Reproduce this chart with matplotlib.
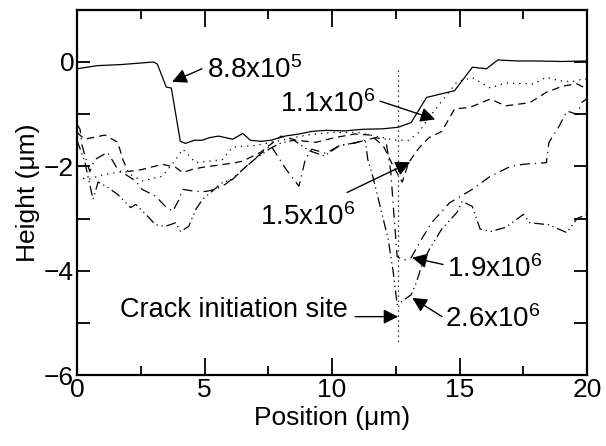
import matplotlib
matplotlib.use("Agg")
import matplotlib.pyplot as plt
from matplotlib.ticker import MultipleLocator

plt.rcParams['font.family'] = ['Liberation Sans', 'DejaVu Sans']
plt.rcParams['mathtext.fontset'] = 'custom'
plt.rcParams['mathtext.rm'] = 'Liberation Sans'
plt.rcParams['mathtext.it'] = 'Liberation Sans'

# profile for 8.8x10^5 cycles (solid)
x_88e5 = [0, 0.4, 0.8, 1.7, 2.5, 3.0, 3.15, 3.5, 3.7, 4.05, 4.25, 4.6, 4.9, 5.2, 5.55,
          6.1, 6.5, 6.8, 7.2, 7.6, 8.15, 8.7, 9.2, 9.75, 10.5, 11.2, 12.0, 12.6, 13.1,
          13.7, 14.2, 14.8, 15.5, 16.05, 16.5, 17.2, 18.0, 19.0, 20.0]
y_88e5 = [-0.13, -0.1, -0.07, -0.05, -0.02, 0.0, -0.04, -0.48, -0.5, -1.52, -1.56, -1.5,
          -1.5, -1.45, -1.42, -1.48, -1.37, -1.5, -1.52, -1.5, -1.42, -1.38, -1.33, -1.31,
          -1.32, -1.29, -1.28, -1.25, -1.16, -0.68, -0.62, -0.55, -0.1, -0.13, 0.04, 0.02,
          0.02, 0.01, 0.02]

# 1.1x10^6 (dotted)
x_11e6 = [0, 0.43, 1.1, 1.9, 2.55, 3.35, 3.87, 4.15, 4.65, 5.2, 5.7, 6.1, 7.0, 8.0, 9.0,
          10.0, 11.0, 12.0, 12.5, 13.0, 13.4, 13.7, 14.3, 14.9, 15.5, 16.2, 16.8, 17.9,
          18.4, 18.9, 19.4, 19.8, 20.0]
y_11e6 = [-2.2, -2.25, -2.15, -2.1, -2.28, -2.19, -1.87, -1.67, -1.93, -1.9, -1.87, -1.63,
          -1.6, -1.5, -1.4, -1.35, -1.35, -1.45, -1.5, -1.5, -1.35, -1.13, -0.75, -0.38,
          -0.3, -0.5, -0.4, -0.42, -0.29, -0.36, -0.38, -0.33, -0.33]

# 1.5x10^6 (dashed)
x_15e6 = [0, 0.3, 1.1, 1.6, 1.8, 2.0, 2.55, 3.35, 3.87, 4.15, 4.5, 4.9, 5.5, 6.2, 6.5,
          7.2, 8.0, 8.6, 9.35, 10.1, 10.9, 11.5, 12.0, 12.4, 12.75, 13.0, 13.4, 13.8,
          14.3, 14.8, 15.4, 16.2, 16.8, 17.75, 18.4, 19.05, 19.6, 20.0]
y_15e6 = [-1.35, -1.48, -1.4, -1.54, -1.87, -2.1, -2.06, -1.96, -2.02, -2.12, -2.06, -2.02,
          -1.98, -1.93, -1.9, -1.73, -1.42, -1.5, -1.54, -1.45, -1.38, -1.4, -1.6, -2.0,
          -2.3, -1.93, -1.65, -1.45, -1.33, -0.9, -0.87, -0.71, -0.84, -0.78, -0.58,
          -0.46, -0.42, -0.52]

# 1.9x10^6 (dash-dot)
x_19e6 = [0, 0.12, 0.2, 0.5, 0.7, 1.2, 1.6, 2.3, 2.55, 3.08, 3.47, 3.75, 4.0, 4.14, 4.65,
          5.05, 5.45, 5.8, 6.2, 6.5, 7.1, 7.6, 8.2, 8.7, 8.95, 9.2, 9.75, 10.3, 10.9, 11.3,
          11.7, 12.1, 12.3, 12.4, 12.55, 12.8, 13.1, 13.5, 13.9, 14.6, 15.5, 16.2, 17.0,
          17.5, 18.4, 18.5, 18.9, 19.2, 19.6, 19.8, 20.0]
y_19e6 = [-1.19, -1.29, -1.6, -2.1, -1.87, -1.73, -2.06, -2.28, -2.44, -2.57, -2.77, -2.86,
          -2.64, -2.44, -2.48, -2.48, -2.44, -2.35, -2.19, -2.06, -1.8, -1.6, -2.06, -2.38,
          -1.87, -1.67, -1.75, -1.6, -1.55, -1.5, -1.45, -1.48, -2.1, -2.77, -3.73, -3.8,
          -3.75, -3.4, -3.08, -2.7, -2.44, -2.19, -2.0, -1.96, -1.93, -1.54, -1.23, -0.94,
          -1.0, -0.77, -0.7]

# 2.6x10^6 (dash-dot-dot)
x_26e6 = [0, 0.3, 0.63, 0.83, 1.2, 1.6, 2.1, 2.3, 2.7, 3.08, 3.47, 3.87, 4.06, 4.38, 4.65,
          4.93, 5.7, 6.1, 6.5, 7.0, 7.6, 8.0, 8.5, 9.1, 9.7, 10.3, 10.9, 11.3, 11.4, 11.6,
          11.8, 12.2, 12.4, 12.55, 12.7, 13.1, 13.3, 13.5, 13.8, 14.3, 14.9, 15.1, 15.5,
          15.8, 16.2, 16.8, 17.5, 17.75, 18.5, 19.2, 19.6, 20.0]
y_26e6 = [-1.5, -1.9, -2.63, -2.3, -2.4, -2.54, -2.79, -2.73, -2.92, -3.12, -3.15, -3.08,
          -3.25, -3.15, -2.83, -2.63, -2.31, -2.25, -2.06, -1.85, -1.65, -1.55, -1.5, -1.7,
          -1.8, -1.6, -1.55, -1.5, -1.87, -2.2, -2.6, -3.4, -4.04, -4.65, -4.6, -4.46,
          -4.23, -3.92, -3.6, -3.2, -2.88, -2.67, -2.77, -3.2, -3.25, -3.17, -2.92, -3.08,
          -3.12, -3.27, -3.0, -2.92]

crack_x = 12.57
crack_y = [-0.15, -5.4]

fig = plt.figure(figsize=(6.06, 4.46), dpi=100)
ax = fig.add_axes([0.127, 0.159, 0.842, 0.819])

lw = 0.9
ax.plot(x_88e5, y_88e5, color='k', lw=lw, ls='-')
ax.plot(x_11e6, y_11e6, color='k', lw=lw, ls=(0, (1, 4)))
ax.plot(x_15e6, y_15e6, color='k', lw=lw, ls=(0, (6, 4)))
ax.plot(x_19e6, y_19e6, color='k', lw=lw, ls=(0, (8, 4, 1, 4)))
ax.plot(x_26e6, y_26e6, color='k', lw=lw, ls=(0, (8, 3, 1, 3, 1, 3)))
ax.plot([crack_x, crack_x], crack_y, color='k', lw=lw, ls=(0, (1, 3)))

fs = 19
afs = 20
aprops = dict(arrowstyle='-|>', mutation_scale=22, lw=1.0, color='k',
              shrinkA=0, shrinkB=0)
arrows = [((3.73, -0.38), (4.9, -0.13)),
          ((14.04, -1.1), (11.88, -0.75)),
          ((13.06, -1.92), (10.59, -2.5)),
          ((13.14, -3.75), (14.35, -3.88)),
          ((13.14, -4.52), (14.31, -4.88)),
          ((12.59, -4.88), (10.9, -4.88))]
for tip, tail in arrows:
    ax.annotate('', xy=tip, xytext=tail, arrowprops=aprops)

ax.text(5.1, -0.31, r'8.8x10$^{5}$', fontsize=afs, va='baseline')
ax.text(7.96, -0.95, r'1.1x10$^{6}$', fontsize=afs, va='baseline')
ax.text(7.18, -3.12, r'1.5x10$^{6}$', fontsize=afs, va='baseline')
ax.text(14.5, -4.12, r'1.9x10$^{6}$', fontsize=afs, va='baseline')
ax.text(14.43, -5.08, r'2.6x10$^{6}$', fontsize=afs, va='baseline')
ax.text(10.63, -4.88, 'Crack initiation site', fontsize=19.5, va='baseline', ha='right')

ax.set_xlim(0, 20)
ax.set_ylim(-6, 1)
ax.set_xticks([0, 5, 10, 15, 20])
ax.xaxis.set_minor_locator(MultipleLocator(2.5))
ax.set_yticks([-6, -4, -2, 0])
ax.yaxis.set_minor_locator(MultipleLocator(1))
ax.tick_params(which='both', direction='in', top=True, right=True,
               labelsize=fs, width=1.3)
ax.tick_params(axis='x', which='major', length=12, pad=2)
ax.tick_params(axis='x', which='minor', length=6.5)
ax.tick_params(axis='y', which='both', length=9.5, pad=2)
for sp in ax.spines.values():
    sp.set_linewidth(1.6)

ax.set_xlabel('Position (\u03bcm)', fontsize=fs, labelpad=3)
ax.set_ylabel('Height (\u03bcm)', fontsize=fs, labelpad=3)

fig.savefig('out.png', dpi=100)
